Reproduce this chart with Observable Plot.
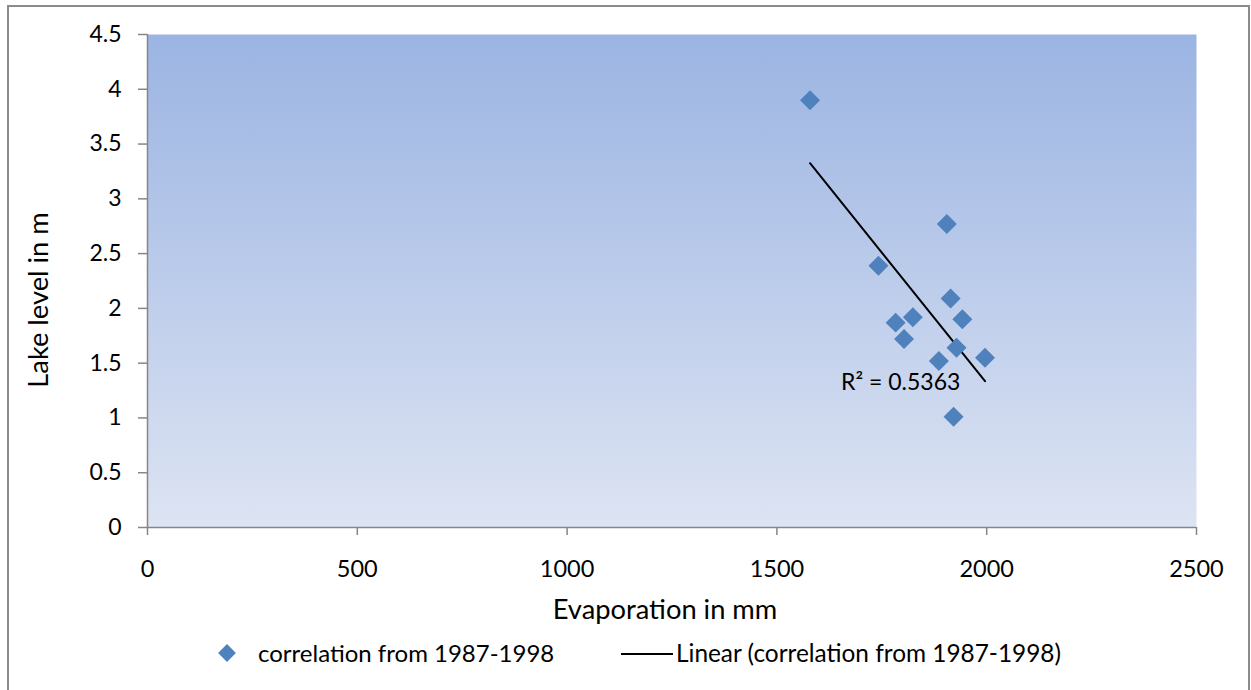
<!DOCTYPE html>
<html>
<head>
<meta charset="utf-8">
<script src="https://cdn.jsdelivr.net/npm/d3@7"></script>
<script src="https://cdn.jsdelivr.net/npm/@observablehq/plot@0.6"></script>
<style>
  html, body { margin: 0; padding: 0; background: #fff; overflow: hidden; }
  #frame { position: absolute; left: 7px; top: 5px; width: 1243px; height: 700px; border: 2px solid #8c8c8c; box-sizing: border-box; }
  #chart { position: absolute; left: 0; top: 0; }
  .leg { position: absolute; font-family: Lato, sans-serif; font-size: 24px; color: #000; line-height: 30px; white-space: nowrap; }
</style>
</head>
<body>
<div id="frame"></div>
<div id="chart"></div>
<svg class="leg" id="legDiamond" width="24" height="24" style="left:215px; top:641px;"></svg>
<div class="leg" id="legText1" style="left:258px; top:638px;">correlation from 1987-1998</div>
<svg class="leg" id="legLine" width="60" height="10" style="left:620px; top:649px;"><line x1="1" x2="53" y1="5" y2="5" stroke="#000" stroke-width="2"></line></svg>
<div class="leg" id="legText2" style="left:676px; top:638px; font-size:24.4px;">Linear (correlation from 1987-1998)</div>
<script>
// ---- data ----
const evaporation = [1579, 1905, 1742, 1914, 1824, 1783, 1942, 1803, 1928, 1996, 1886, 1921];
const lakeLevel   = [3.90, 2.77, 2.39, 2.09, 1.92, 1.87, 1.90, 1.72, 1.64, 1.55, 1.52, 1.01];
const xTicks = [0, 500, 1000, 1500, 2000, 2500];
const yTicks = [0, 0.5, 1, 1.5, 2, 2.5, 3, 3.5, 4, 4.5];
const seriesName = "correlation from 1987-1998";
const r2Text = "R² = 0.5363";
const r2Pos = {x: 1795, y: 1.32};
const xTitle = "Evaporation in mm";
const yTitle = "Lake level in m";

const data = evaporation.map((e, i) => ({x: e, y: lakeLevel[i]}));
const markerColor = "#4F81BD";
const axisGray = "#868686";

const chart = Plot.plot({
  width: 1251,
  height: 690,
  marginLeft: 147,
  marginRight: 55,
  marginTop: 34,
  marginBottom: 163,
  x: {domain: [0, 2500]},
  y: {domain: [0, 4.5]},
  style: {fontFamily: "Lato, sans-serif", background: "transparent", overflow: "visible", color: "#000"},
  marks: [
    Plot.frame({fill: "url(#bgGrad)", stroke: "none"}),
    Plot.axisX({ticks: xTicks, tickSize: 8, tickPadding: 25, stroke: axisGray, strokeWidth: 1.5, fill: "#000", fontSize: 23.5, label: null, tickFormat: d => String(d)}),
    Plot.axisY({ticks: yTicks, tickSize: 9, tickPadding: 17, stroke: axisGray, strokeWidth: 1.5, fill: "#000", fontSize: 23, label: null, tickFormat: d => String(d)}),
    Plot.ruleY([0], {stroke: axisGray, strokeWidth: 1.5}),
    Plot.ruleX([0], {stroke: axisGray, strokeWidth: 1.5}),
    Plot.linearRegressionY(data, {x: "x", y: "y", ci: 0, stroke: "#000", strokeWidth: 2}),
    Plot.dot(data, {x: "x", y: "y", symbol: "diamond2", r: 9, fill: markerColor, stroke: "none"}),
    Plot.text([r2Text], {x: () => r2Pos.x, y: () => r2Pos.y, text: d => d, fontSize: 23, fill: "#000"}),
    Plot.text([xTitle], {frameAnchor: "bottom", text: d => d, dy: 91, dx: -7, fontSize: 27.3, fill: "#000"})
  ]
});

// gradient fill for the plot area
const svg = d3.select(chart);
const defs = svg.insert("defs", ":first-child");
const grad = defs.append("linearGradient").attr("id", "bgGrad").attr("x1", 0).attr("y1", 0).attr("x2", 0).attr("y2", 1);
grad.append("stop").attr("offset", 0).attr("stop-color", "#9BB4E2");
grad.append("stop").attr("offset", 1).attr("stop-color", "#DDE4F3");

// rotated y-axis title
svg.append("text")
  .attr("transform", "translate(48,300) rotate(-90)")
  .attr("text-anchor", "middle")
  .attr("font-family", "Lato, sans-serif")
  .attr("font-size", 27.3)
  .attr("fill", "#000")
  .text(yTitle);

document.getElementById("chart").appendChild(chart);

// legend diamond symbol
d3.select("#legDiamond").append("path")
  .attr("transform", "translate(12,12)")
  .attr("d", d3.symbol(d3.symbolDiamond2, Math.PI * 8 * 8)())
  .attr("fill", markerColor);
</script>
</body>
</html>
